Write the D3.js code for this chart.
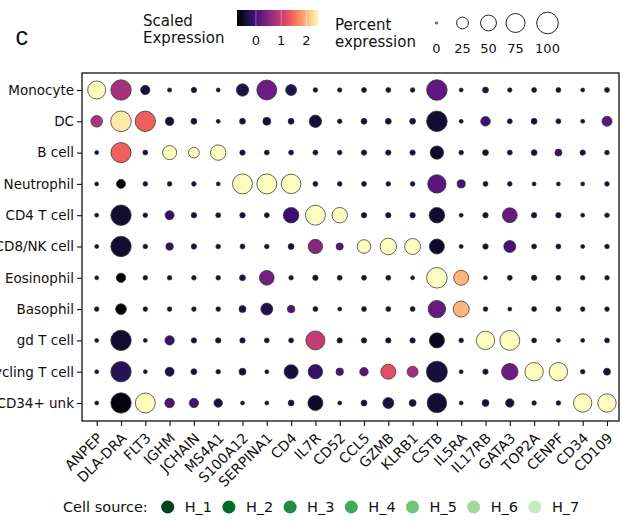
<!DOCTYPE html>
<html>
<head>
<meta charset="utf-8">
<script src="https://cdn.jsdelivr.net/npm/d3@7"></script>
<style>
  body { margin: 0; background: #fff; }
  svg { display: block; }
  text { font-family: "DejaVu Sans", sans-serif; fill: #111; }
</style>
</head>
<body>
<svg id="chart" width="623" height="521"></svg>
<script>
// Marker genes (columns) and cell types (rows)
const genes = ["ANPEP", "DLA-DRA", "FLT3", "IGHM", "JCHAIN", "MS4A1", "S100A12", "SERPINA1",
  "CD4", "IL7R", "CD52", "CCL5", "GZMB", "KLRB1", "CSTB", "IL5RA", "IL17RB", "GATA3",
  "TOP2A", "CENPF", "CD34", "CD109"];
const cellTypes = ["Monocyte", "DC", "B cell", "Neutrophil", "CD4 T cell", "CD8/NK cell",
  "Eosinophil", "Basophil", "gd T cell", "Cycling T cell", "CD34+ unk"];

// Percent of cells expressing each gene (rows follow cellTypes, columns follow genes)
const pctExpressed = [
  [67, 88, 14, 1.2, 3, 1, 28, 84, 21, 1.8, 1.5, 2.3, 2.3, 1.8, 90, 1, 4, 1.5, 2.3, 2.3, 1, 2.3],
  [24, 90, 88, 11, 4, 1, 4, 9, 4, 28, 1.8, 4, 4, 4, 90, 1, 15, 2.3, 4, 2.3, 1, 17],
  [1, 86, 2.3, 38, 20, 47, 3, 2.3, 2.3, 2.3, 1.8, 3, 3, 3, 34, 1.8, 4, 2.3, 4, 6.5, 3, 1.8],
  [1, 13, 1.8, 1.8, 1.8, 1, 84, 84, 80, 2.3, 1.8, 2.3, 1.8, 1.8, 70, 10, 2.3, 1.8, 1, 1, 1, 1.8],
  [1, 88, 1.8, 13, 3, 2.3, 3, 2.3, 48, 84, 47, 3, 3, 3, 48, 1, 3, 43, 3, 3, 1, 1.8],
  [1, 88, 1.8, 8, 3, 1.8, 2.3, 1.8, 4, 40, 7, 35, 55, 51, 44, 1, 3, 26, 2.3, 2.3, 1, 1.8],
  [1, 14, 1.8, 1.8, 1.8, 1.8, 4, 42, 1.8, 3, 2.3, 2.3, 2.3, 1, 90, 44, 1, 2.3, 3, 2.3, 1.8, 1.8],
  [1.8, 20, 1.8, 1.8, 1.8, 1.8, 6.5, 26, 8, 2.3, 1, 2.3, 2.3, 2.3, 62, 51, 1.8, 1, 2.3, 2.3, 1.8, 1.8],
  [1, 88, 1, 14, 3, 3, 3, 2.3, 2.3, 75, 3, 3, 3, 3, 45, 1.8, 70, 84, 2.3, 1, 1, 2.3],
  [1, 88, 1, 13, 4, 1.8, 6.5, 1, 38, 40, 8, 11, 44, 21, 94, 1, 3, 55, 70, 70, 1.8, 6.5],
  [1, 88, 84, 15, 14, 11, 1, 1, 4, 44, 1, 4, 21, 6.5, 80, 1, 6.5, 10.7, 1.8, 1.8, 70, 70]
];

// Scaled (z-scored, clipped) mean expression, same layout as pctExpressed
const scaledExpr = [
  [2.5, 0.75, -0.4, -0.4, -0.4, -0.4, -0.35, 0.3, -0.3, -0.45, -0.4, -0.4, -0.4, -0.4, 0.2, -0.4, -0.35, -0.4, -0.4, -0.4, -0.4, -0.4],
  [0.8, 2.35, 1.4, -0.4, -0.4, -0.4, -0.4, -0.4, -0.4, -0.4, -0.4, -0.4, -0.4, -0.4, -0.45, -0.4, -0.05, -0.4, -0.4, -0.4, -0.4, 0.15],
  [-0.4, 1.4, -0.4, 2.5, 2.5, 2.5, -0.4, -0.4, -0.4, -0.4, -0.4, -0.4, -0.4, -0.4, -0.5, -0.4, -0.4, -0.4, -0.4, -0.1, -0.4, -0.4],
  [-0.4, -0.75, -0.4, -0.4, -0.4, -0.4, 2.5, 2.5, 2.5, -0.4, -0.4, -0.4, -0.4, -0.4, 0.15, 0.05, -0.4, -0.4, -0.4, -0.4, -0.4, -0.4],
  [-0.4, -0.45, -0.4, -0.15, -0.4, -0.4, -0.4, -0.4, -0.1, 2.5, 2.5, -0.4, -0.4, -0.4, -0.45, -0.4, -0.4, 0.25, -0.4, -0.4, -0.4, -0.4],
  [-0.4, -0.45, -0.4, -0.15, -0.4, -0.4, -0.4, -0.4, -0.4, 0.5, 0.1, 2.5, 2.5, 2.5, -0.5, -0.4, -0.4, 0.0, -0.4, -0.4, -0.4, -0.4],
  [-0.4, -0.75, -0.4, -0.4, -0.4, -0.4, -0.35, 0.35, -0.4, -0.4, -0.4, -0.4, -0.4, -0.4, 2.5, 2.0, -0.4, -0.4, -0.4, -0.4, -0.4, -0.4],
  [-0.4, -0.75, -0.4, -0.4, -0.4, -0.4, -0.35, -0.3, 0.05, -0.45, -0.4, -0.4, -0.4, -0.4, 0.25, 2.0, -0.4, -0.4, -0.4, -0.4, -0.4, -0.4],
  [-0.4, -0.45, -0.4, -0.1, -0.4, -0.4, -0.4, -0.4, -0.4, 1.0, -0.4, -0.4, -0.4, -0.4, -0.55, -0.4, 2.5, 2.5, -0.4, -0.4, -0.4, -0.4],
  [-0.4, -0.25, -0.4, -0.35, -0.4, -0.4, -0.4, -0.4, -0.4, -0.15, 0.05, 0.15, 1.25, 0.7, -0.4, -0.4, -0.4, 0.3, 2.5, 2.5, -0.4, -0.4],
  [-0.4, -0.65, 2.5, 0.05, -0.05, -0.35, -0.4, -0.4, -0.4, -0.5, -0.4, -0.4, -0.35, -0.4, -0.45, -0.4, -0.4, -0.4, -0.4, -0.4, 2.5, 2.5]
];

const colorDomain = [-0.75, 2.5];
const colorTicks = [0, 1, 2];
const sizeTicks = [0, 25, 50, 75, 100];
const cellSources = ["H_1", "H_2", "H_3", "H_4", "H_5", "H_6", "H_7"];
const sourceColors = ["#00441b", "#006d2c", "#238b45", "#41ab5d", "#74c476", "#a1d99b", "#c7e9c0"];

const svg = d3.select("#chart");
const frame = { left: 82, right: 619, top: 73, bottom: 421 };

const x = d3.scalePoint().domain(genes).range([96.7, 607]);
const y = d3.scalePoint().domain(cellTypes).range([90, 403]);
const color = d3.scaleSequential(d3.interpolateMagma).domain(colorDomain);
const radius = d3.scaleSqrt().domain([0, 100]).range([1, 10.8]);

// Panel letter
svg.append("text")
  .attr("x", 15.5).attr("y", 45)
  .style("font-family", "'Liberation Sans', Arial, sans-serif")
  .style("font-size", "25px")
  .text("c");

// Dots
const cells = [];
cellTypes.forEach((ct, i) => genes.forEach((g, j) => {
  cells.push({ ct, g, pct: pctExpressed[i][j], val: scaledExpr[i][j] });
}));

svg.append("g").selectAll("circle")
  .data(cells)
  .join("circle")
  .attr("cx", d => x(d.g))
  .attr("cy", d => y(d.ct))
  .attr("r", d => radius(d.pct))
  .attr("fill", d => color(d.val))
  .attr("stroke", "#333")
  .attr("stroke-width", 0.75);

// Frame
svg.append("rect")
  .attr("x", frame.left).attr("y", frame.top)
  .attr("width", frame.right - frame.left)
  .attr("height", frame.bottom - frame.top)
  .attr("fill", "none")
  .attr("stroke", "#111")
  .attr("stroke-width", 1.3);

// Y axis
const yAxis = svg.append("g")
  .attr("transform", `translate(${frame.left},0)`)
  .call(d3.axisLeft(y).tickSize(5).tickPadding(3));
yAxis.select(".domain").remove();
yAxis.selectAll(".tick line").attr("stroke", "#111").attr("stroke-width", 1.1);
yAxis.selectAll(".tick text")
  .style("font-family", "'DejaVu Sans', sans-serif")
  .style("font-size", "13.5px")
  .attr("fill", "#111");

// X axis with rotated labels
const xAxis = svg.append("g")
  .attr("transform", `translate(0,${frame.bottom})`)
  .call(d3.axisBottom(x).tickSize(5));
xAxis.select(".domain").remove();
xAxis.selectAll(".tick line").attr("stroke", "#111").attr("stroke-width", 1.1);
xAxis.selectAll(".tick text")
  .style("font-family", "'DejaVu Sans', sans-serif")
  .style("font-size", "14px")
  .attr("fill", "#111")
  .attr("text-anchor", "end")
  .attr("x", 0).attr("y", 0).attr("dy", 0)
  .attr("transform", "translate(6,18) rotate(-45)");

// Colour legend
const cbX = d3.scaleLinear().domain(colorDomain).range([237, 319]);
const defs = svg.append("defs");
const grad = defs.append("linearGradient").attr("id", "magmaGrad");
d3.range(0, 1.0001, 0.05).forEach(t => {
  grad.append("stop").attr("offset", t).attr("stop-color", d3.interpolateMagma(t));
});
svg.append("text").attr("x", 143).attr("y", 26).style("font-size", "15px").text("Scaled");
svg.append("text").attr("x", 143).attr("y", 43).style("font-size", "15px").text("Expression");
svg.append("rect")
  .attr("x", cbX.range()[0]).attr("y", 10)
  .attr("width", cbX.range()[1] - cbX.range()[0]).attr("height", 16)
  .attr("fill", "url(#magmaGrad)");
svg.append("g").selectAll("line")
  .data(colorTicks).join("line")
  .attr("x1", d => cbX(d)).attr("x2", d => cbX(d))
  .attr("y1", 10).attr("y2", 26)
  .attr("stroke", "#fff").attr("stroke-opacity", 0.45).attr("stroke-width", 0.8);
svg.append("g").selectAll("text")
  .data(colorTicks).join("text")
  .attr("x", d => cbX(d)).attr("y", 45)
  .attr("text-anchor", "middle")
  .style("font-size", "13px")
  .text(d => d);

// Size legend
svg.append("text").attr("x", 335).attr("y", 30).style("font-size", "15px").text("Percent");
svg.append("text").attr("x", 335).attr("y", 47).style("font-size", "15px").text("expression");
const sizeOffsets = [0, 26, 52, 79, 111];
const sizeLeg = svg.append("g").selectAll("g")
  .data(sizeTicks).join("g")
  .attr("transform", (d, i) => `translate(${436.5 + sizeOffsets[i]},0)`);
sizeLeg.append("circle")
  .attr("cy", 23).attr("r", d => radius(d))
  .attr("fill", "none").attr("stroke", "#222").attr("stroke-width", 1);
sizeLeg.append("text")
  .attr("y", 53).attr("text-anchor", "middle")
  .style("font-size", "13px")
  .text(d => d);

// Cell source legend
svg.append("text").attr("x", 63).attr("y", 512).style("font-size", "14.5px").text("Cell source:");
const srcLeg = svg.append("g").selectAll("g")
  .data(cellSources).join("g")
  .attr("transform", (d, i) => `translate(${167.7 + i * 61.2},507)`);
srcLeg.append("circle").attr("r", 6.5).attr("fill", (d, i) => sourceColors[i]);
srcLeg.append("text").attr("x", 17).attr("y", 5.3).style("font-size", "14.5px").text(d => d);
</script>
</body>
</html>
